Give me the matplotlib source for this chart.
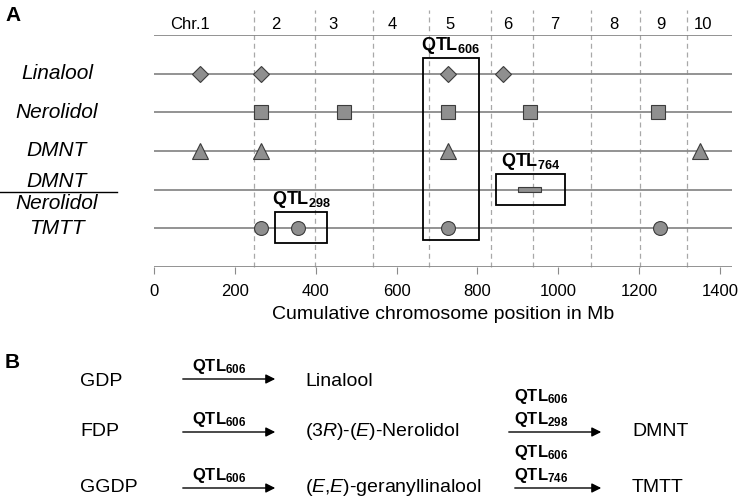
import matplotlib
matplotlib.use("Agg")
import matplotlib.pyplot as plt
from matplotlib.patches import Rectangle

plt.rcParams['font.family'] = ['Liberation Sans', 'DejaVu Sans']
plt.rcParams['mathtext.fontset'] = 'custom'
plt.rcParams['mathtext.rm'] = 'Liberation Sans'
plt.rcParams['mathtext.it'] = 'Liberation Sans:italic'
plt.rcParams['mathtext.bf'] = 'Liberation Sans:bold'

# chromosome boundaries (cumulative Mb) and label positions
chr_bounds = [247, 398, 542, 680, 834, 937, 1081, 1202, 1318]
chr_labels = ["Chr.1", "2", "3", "4", "5", "6", "7", "8", "9", "10"]
chr_label_pos = [89, 302, 443, 589, 732, 876, 992, 1138, 1254, 1358]

# QTL positions per trait (Mb)
linalool = [114, 264, 727, 863]
nerolidol = [264, 470, 727, 930, 1247]
dmnt = [114, 264, 727, 1350]
ratio_span = [900, 957]
tmtt = [264, 356, 727, 1252]

row_names = ["Linalool", "Nerolidol", "DMNT", "", "TMTT"]
row_y = [5, 4, 3, 2, 1]

# boxes: (x0, x1, y0, y1, label)
qtl_boxes = [(665, 804, 0.7, 5.4, "606"),
             (846, 1017, 1.6, 2.4, "764"),
             (299, 428, 0.62, 1.42, "298")]

fill = "#8f8f8f"
edge = "#3c3c3c"
linec = "#8a8a8a"

fig = plt.figure(figsize=(7.4, 5.01), dpi=100)
ax = fig.add_axes([154/740, 1-267/501, 578/740, 232/501])
ax.set_xlim(0, 1430)
ax.set_ylim(0, 6)

for y in range(0, 7):
    ax.axhline(y, color=linec, lw=1.3, zorder=1)
for b in chr_bounds:
    ax.plot([b, b], [0, 6.65], ls=(0, (4, 3)), color="#a8a8a8", lw=0.9,
            clip_on=False, zorder=0)
for p, t in zip(chr_label_pos, chr_labels):
    ax.text(p, 6.27, t, ha="center", va="center", fontsize=12)

mk = dict(ls="none", mfc=fill, mec=edge, mew=0.8, zorder=3, clip_on=False)
ax.plot(linalool, [5]*len(linalool), marker="D", ms=8, **mk)
ax.plot(nerolidol, [4]*len(nerolidol), marker="s", ms=10, **mk)
ax.plot(dmnt, [3]*len(dmnt), marker="^", ms=12, **mk)
ax.plot(tmtt, [1]*len(tmtt), marker="o", ms=10, **mk)
ax.barh(2, ratio_span[1]-ratio_span[0], left=ratio_span[0], height=0.13,
        color=fill, edgecolor=edge, lw=0.8, zorder=3)

for x0, x1, y0, y1, lab in qtl_boxes:
    ax.add_patch(Rectangle((x0, y0), x1-x0, y1-y0, fill=False, ec="black",
                           lw=1.3, zorder=4, clip_on=False))
    ax.text((x0+x1)/2, y1+0.05, r"$\mathbf{QTL_{%s}}$" % lab, ha="center",
            va="bottom", fontsize=13)

for s in ax.spines.values():
    s.set_visible(False)
ax.set_yticks([])
ax.set_xticks(range(0, 1401, 200))
ax.tick_params(axis="x", length=5, color=linec, labelsize=12, pad=7)
ax.set_xlabel("Cumulative chromosome position in Mb", fontsize=14, labelpad=5)

# row labels
lx = -97/0.4042
for name, y in zip(row_names, row_y):
    if name:
        ax.text(lx, y, name, ha="center", va="center",
                fontsize=15, style="italic", clip_on=False)
ax.text(lx, 2.2, "DMNT", ha="center", va="center", fontsize=15,
        style="italic", clip_on=False)
ax.text(lx, 1.65, "Nerolidol", ha="center", va="center", fontsize=15,
        style="italic", clip_on=False)

# overlay in pixel coords for panel labels and scheme B
ov = fig.add_axes([0, 0, 1, 1], zorder=-1)
ov.set_xlim(0, 740)
ov.set_ylim(501, 0)
ov.axis("off")
ov.plot([0, 117], [192, 192], color="black", lw=1)
ov.text(5, 15, "A", fontsize=15, fontweight="bold", va="center")
ov.text(5, 362, "B", fontsize=15, fontweight="bold", va="center")

# scheme B
substrates = ["GDP", "FDP", "GGDP"]
products = ["Linalool", r"($\mathit{3R}$)-($\mathit{E}$)-Nerolidol",
            r"($\mathit{E}$,$\mathit{E}$)-geranyllinalool"]
step2 = [None, ("DMNT", ["606", "298"]), ("TMTT", ["606", "746"])]
ys = [381, 432, 488]
arr = dict(arrowstyle="-|>", color="black", lw=1, mutation_scale=14)
for s, p, st, y in zip(substrates, products, step2, ys):
    ay = y - 2 if s == "GDP" else y
    ov.text(80, y, s, fontsize=14, va="center")
    ov.annotate("", xy=(278, ay), xytext=(180, ay), arrowprops=arr)
    ov.text(192, ay-3, r"$\mathbf{QTL_{606}}$", ha="left", va="bottom",
            fontsize=12)
    ov.text(305, y, p, fontsize=14, va="center")
    if st:
        x0 = 506 if st[0] == "DMNT" else 512
        ov.annotate("", xy=(604, ay), xytext=(x0, ay), arrowprops=arr)
        ov.text(514, ay-3, r"$\mathbf{QTL_{%s}}$" % st[1][1], ha="left",
                va="bottom", fontsize=12)
        ov.text(514, ay-26, r"$\mathbf{QTL_{%s}}$" % st[1][0], ha="left",
                va="bottom", fontsize=12)
        ov.text(632, y, st[0], fontsize=14, va="center")

fig.savefig("out.png", dpi=100)
